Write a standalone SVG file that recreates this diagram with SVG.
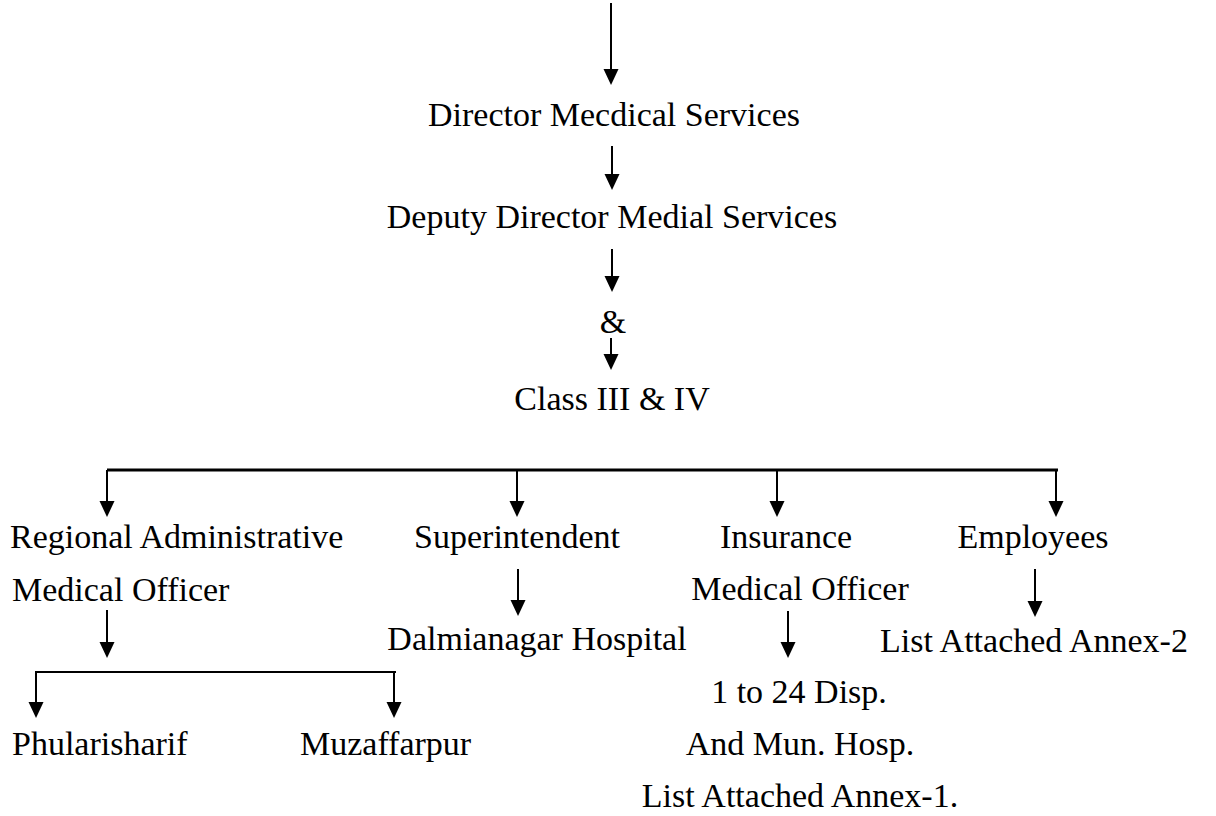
<svg xmlns="http://www.w3.org/2000/svg" width="1216" height="816" viewBox="0 0 1216 816">
<style>
text{font-family:"Liberation Serif","Times New Roman",serif;font-size:34px;fill:#000}
.c{text-anchor:middle}
.ln{stroke:#000;stroke-width:2;fill:none}
.hl{stroke:#000;stroke-width:3;fill:none}
</style>
<defs>
<marker id="ah" markerWidth="15" markerHeight="16" refX="7.5" refY="16" orient="auto" markerUnits="userSpaceOnUse" viewBox="0 0 15 16">
<path d="M0,0 L15,0 L7.5,16 Z" fill="#000" transform="rotate(0)"/>
</marker>
</defs>
<g id="connectors">
<path d="M0,0" />
<line class="ln" x1="611" y1="3" x2="611" y2="69"/><path d="M603.5,69 H618.5 L611,85 Z"/>
<line class="ln" x1="612" y1="146" x2="612" y2="174"/><path d="M604.5,174 H619.5 L612,190 Z"/>
<line class="ln" x1="612" y1="249" x2="612" y2="276"/><path d="M604.5,276 H619.5 L612,292 Z"/>
<line class="ln" x1="611" y1="338" x2="611" y2="354"/><path d="M603.5,354 H618.5 L611,370 Z"/>
<line class="hl" x1="107" y1="470" x2="1058" y2="470"/>
<line class="ln" x1="107" y1="470" x2="107" y2="501"/><path d="M99.5,501 H114.5 L107,517 Z"/>
<line class="ln" x1="517" y1="470" x2="517" y2="501"/><path d="M509.5,501 H524.5 L517,517 Z"/>
<line class="ln" x1="777" y1="470" x2="777" y2="501"/><path d="M769.5,501 H784.5 L777,517 Z"/>
<line class="ln" x1="1056" y1="470" x2="1056" y2="501"/><path d="M1048.5,501 H1063.5 L1056,517 Z"/>
<line class="ln" x1="107" y1="610" x2="107" y2="642"/><path d="M99.5,642 H114.5 L107,658 Z"/>
<line class="ln" x1="518" y1="569" x2="518" y2="600"/><path d="M510.5,600 H525.5 L518,616 Z"/>
<line class="ln" x1="788" y1="611" x2="788" y2="642"/><path d="M780.5,642 H795.5 L788,658 Z"/>
<line class="ln" x1="1035" y1="569" x2="1035" y2="601"/><path d="M1027.5,601 H1042.5 L1035,617 Z"/>
<line class="ln" x1="35" y1="672" x2="396" y2="672"/>
<line class="ln" x1="36" y1="672" x2="36" y2="702"/><path d="M28.5,702 H43.5 L36,718 Z"/>
<line class="ln" x1="394" y1="672" x2="394" y2="702"/><path d="M386.5,702 H401.5 L394,718 Z"/>
</g>
<g id="n-dms"><text class="c" x="614" y="126">Director Mecdical Services</text></g>
<g id="n-ddms"><text class="c" x="612" y="228">Deputy Director Medial Services</text></g>
<g id="n-amp"><text class="c" x="613" y="333">&amp;</text></g>
<g id="n-class"><text class="c" x="612" y="410">Class III &amp; IV</text></g>
<g id="n-ramo"><text x="10" y="548">Regional Administrative</text><text x="12" y="601">Medical Officer</text></g>
<g id="n-supt"><text class="c" x="517" y="548">Superintendent</text></g>
<g id="n-ins"><text class="c" x="786" y="548">Insurance</text><text class="c" x="800" y="600">Medical Officer</text></g>
<g id="n-emp"><text class="c" x="1033" y="548">Employees</text></g>
<g id="n-dalmia"><text class="c" x="537" y="650">Dalmianagar Hospital</text></g>
<g id="n-annex2"><text class="c" x="1034" y="652">List Attached Annex-2</text></g>
<g id="n-phul"><text x="12" y="755">Phularisharif</text></g>
<g id="n-muz"><text x="300" y="755">Muzaffarpur</text></g>
<g id="n-disp"><text class="c" x="799" y="703">1 to 24 Disp.</text><text class="c" x="800" y="755">And Mun. Hosp.</text><text class="c" x="800" y="807">List Attached Annex-1.</text></g>
</svg>
